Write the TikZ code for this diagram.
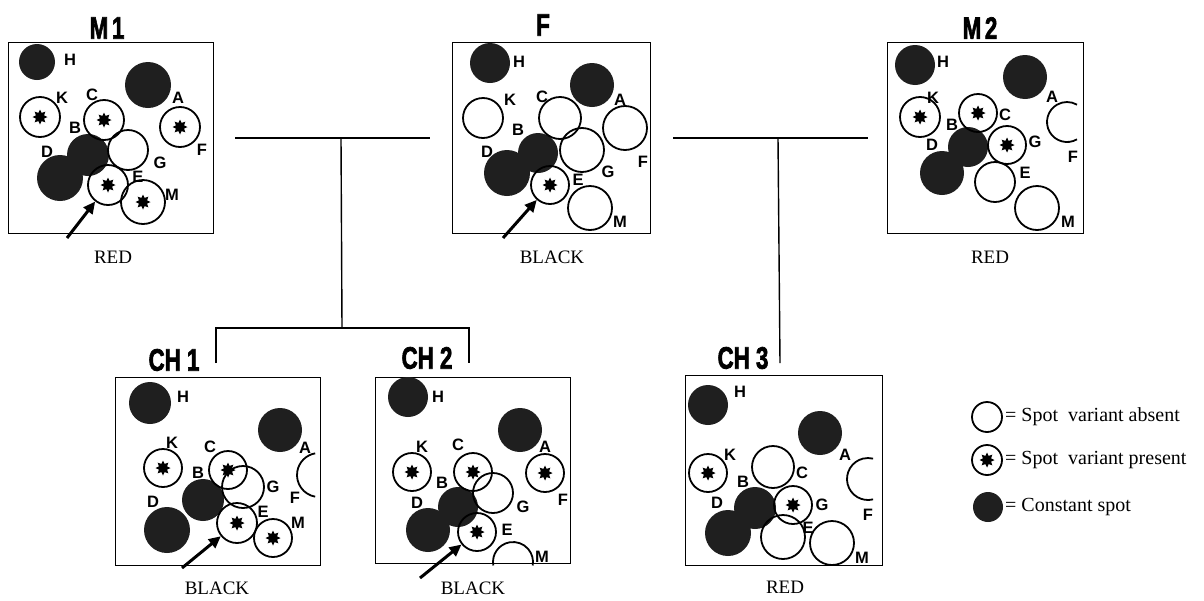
\documentclass[tikz,border=0pt]{standalone}
\usepackage{fontspec}
\setmainfont{Liberation Serif}
\setsansfont{Liberation Sans}
\newfontfamily\headfont[BoldFeatures = {FakeBold = 2.5}]{Liberation Sans}
\usetikzlibrary{shapes.geometric, arrows.meta}

\tikzset{
	panelbox/.style = {draw, line width = 1.4pt, inner sep = 0, anchor = north west},
	spot/.style = {circle, inner sep = 0, line width = 1.8pt},
	constspot/.style = {spot, fill = black!88},
	absentspot/.style = {spot, draw},
	presentspot/.style = {spot, draw, path picture = {\node[starmark] at (path picture bounding box.center){};}},
	starmark/.style = {star, star points = 8, star point ratio = 1.7, minimum size = 15pt, inner sep = 0, fill = black},
	spotarc/.style = {line width = 1.8pt},
	spotlabel/.style = {font = \sffamily\bfseries\fontsize{16.5}{16.5}\selectfont, inner sep = 0},
	paneltitle/.style = {font = \headfont\bfseries\fontsize{31}{31}\selectfont, xscale = 0.72, inner sep = 0},
	panelcaption/.style = {font = \fontsize{19}{19}\selectfont, inner sep = 0},
	legendtext/.style = {font = \fontsize{20}{20}\selectfont, anchor = west, inner sep = 0},
	pointer/.style = {line width = 3pt, -{Triangle[length = 12pt, width = 11pt]}},
	pedigree/.style = {line width = 1.4pt}
}

\begin{document}
\begin{tikzpicture}[x = 1pt, y = -1pt]
	\useasboundingbox (0, 0) rectangle (1204, 600);

	% M1
	\node[panelbox, minimum width = 205pt, minimum height = 191pt] (m1box) at (8, 42){};
	\node[paneltitle] (m1title) at (107, 28){M\,1};
	\node[panelcaption] (m1caption) at (113, 257){RED};
	\foreach \n/\x/\y/\r in {H/37/62/18, A/148/85/23, B/88/155/21, D/60/178/23}
		\node[constspot, minimum size = 2*\r pt] (m1-\n) at (\x, \y){};
	\foreach \n/\x/\y/\r in {G/128/150/20}
		\node[absentspot, minimum size = 2*\r pt] (m1-\n) at (\x, \y){};
	\foreach \n/\x/\y/\r in {K/40/117/20, C/104/120/20, F/180/127/20, E/108/185/20, M/143/202/22}
		\node[presentspot, minimum size = 2*\r pt] (m1-\n) at (\x, \y){};
	\foreach \n/\x/\y in {H/70/60, A/178/98, K/62/98, C/92/95, F/202/150, B/75/128, D/47/152, G/160/163, E/138/177, M/172/195}
		\node[spotlabel] (m1-\n-lab) at (\x, \y){\n};
	\coordinate (m1tail) at (67, 238);
	\draw[pointer] (m1tail) -- (m1-E);

	% F
	\node[panelbox, minimum width = 198pt, minimum height = 191pt] (fbox) at (452, 42){};
	\node[paneltitle] (ftitle) at (543, 25){F};
	\node[panelcaption] (fcaption) at (552, 257){BLACK};
	\foreach \n/\x/\y/\r in {H/490/63/20, A/592/85/22, B/538/153/20, D/507/173/23}
		\node[constspot, minimum size = 2*\r pt] (f-\n) at (\x, \y){};
	\foreach \n/\x/\y/\r in {K/483/118/20, C/560/118/21, F/625/128/22, G/582/150/22, M/590/208/22}
		\node[absentspot, minimum size = 2*\r pt] (f-\n) at (\x, \y){};
	\foreach \n/\x/\y/\r in {E/550/185/19}
		\node[presentspot, minimum size = 2*\r pt] (f-\n) at (\x, \y){};
	\foreach \n/\x/\y in {H/519/62, A/620/100, K/510/100, C/542/97, F/643/162, B/518/130, D/487/152, G/608/172, E/578/180, M/620/222}
		\node[spotlabel] (f-\n-lab) at (\x, \y){\n};
	\coordinate (ftail) at (503, 238);
	\draw[pointer] (ftail) -- (f-E);

	% M2
	\node[panelbox, minimum width = 196pt, minimum height = 191pt] (m2box) at (887, 42){};
	\node[paneltitle] (m2title) at (980, 28){M\,2};
	\node[panelcaption] (m2caption) at (990, 257){RED};
	\foreach \n/\x/\y/\r in {H/915/65/20, A/1025/77/22, B/968/147/20, D/942/173/22}
		\node[constspot, minimum size = 2*\r pt] (m2-\n) at (\x, \y){};
	\foreach \n/\x/\y/\r in {E/995/182/20, M/1037/208/22}
		\node[absentspot, minimum size = 2*\r pt] (m2-\n) at (\x, \y){};
	\foreach \n/\x/\y/\r in {K/920/117/20, C/978/113/19, G/1007/145/19}
		\node[presentspot, minimum size = 2*\r pt] (m2-\n) at (\x, \y){};
	\draw[spotarc] (1067, 122) ++(60:20) arc[start angle = 60, end angle = 300, radius = 20];
	\foreach \n/\x/\y in {H/943/62, A/1052/97, K/933/98, C/1005/115, F/1073/157, B/952/125, D/932/145, G/1035/142, E/1025/173, M/1068/222}
		\node[spotlabel] (m2-\n-lab) at (\x, \y){\n};

	% CH1
	\node[panelbox, minimum width = 205pt, minimum height = 188pt] (ch1box) at (115, 377){};
	\node[paneltitle] (ch1title) at (174, 360){CH 1};
	\node[panelcaption] (ch1caption) at (217, 588){BLACK};
	\foreach \n/\x/\y/\r in {H/150/403/21, A/280/430/22, B/203/500/21, D/167/530/23}
		\node[constspot, minimum size = 2*\r pt] (ch1-\n) at (\x, \y){};
	\foreach \n/\x/\y/\r in {G/243/487/21}
		\node[absentspot, minimum size = 2*\r pt] (ch1-\n) at (\x, \y){};
	\foreach \n/\x/\y/\r in {K/163/468/19, C/228/470/19, E/237/523/20, M/273/538/19}
		\node[presentspot, minimum size = 2*\r pt] (ch1-\n) at (\x, \y){};
	\draw[spotarc] (319, 475) ++(100:22) arc[start angle = 100, end angle = 260, radius = 22];
	\foreach \n/\x/\y in {H/183/397, A/305/448, K/172/443, C/210/447, G/273/487, F/295/498, B/198/473, D/153/502, E/263/512, M/298/523}
		\node[spotlabel] (ch1-\n-lab) at (\x, \y){\n};
	\coordinate (ch1tail) at (182, 568);
	\draw[pointer] (ch1tail) -- (ch1-E);

	% CH2
	\node[panelbox, minimum width = 195pt, minimum height = 186pt] (ch2box) at (375, 377){};
	\node[paneltitle] (ch2title) at (427, 358){CH 2};
	\node[panelcaption] (ch2caption) at (473, 588){BLACK};
	\foreach \n/\x/\y/\r in {H/408/397/20, A/520/430/22, B/458/507/20, D/428/530/22}
		\node[constspot, minimum size = 2*\r pt] (ch2-\n) at (\x, \y){};
	\foreach \n/\x/\y/\r in {G/493/493/20}
		\node[absentspot, minimum size = 2*\r pt] (ch2-\n) at (\x, \y){};
	\foreach \n/\x/\y/\r in {K/412/472/19, C/473/472/19, F/545/473/19, E/477/532/19}
		\node[presentspot, minimum size = 2*\r pt] (ch2-\n) at (\x, \y){};
	\draw[spotarc] (513, 562) ++(170:20) arc[start angle = 170, end angle = 370, radius = 20];
	\foreach \n/\x/\y in {H/438/397, A/545/447, K/422/447, C/458/445, F/563/500, G/523/507, B/442/483, D/417/503, E/507/530, M/542/557}
		\node[spotlabel] (ch2-\n-lab) at (\x, \y){\n};
	\coordinate (ch2tail) at (420, 578);
	\draw[pointer] (ch2tail) -- (ch2-E);

	% CH3
	\node[panelbox, minimum width = 197pt, minimum height = 190pt] (ch3box) at (685, 375){};
	\node[paneltitle] (ch3title) at (743, 358){CH 3};
	\node[panelcaption] (ch3caption) at (785, 587){RED};
	\foreach \n/\x/\y/\r in {H/708/405/20, A/820/433/22, B/755/508/21, D/728/533/23}
		\node[constspot, minimum size = 2*\r pt] (ch3-\n) at (\x, \y){};
	\foreach \n/\x/\y/\r in {C/773/467/21, E/783/537/22, M/832/543/22}
		\node[absentspot, minimum size = 2*\r pt] (ch3-\n) at (\x, \y){};
	\foreach \n/\x/\y/\r in {K/708/473/19, G/793/505/19}
		\node[presentspot, minimum size = 2*\r pt] (ch3-\n) at (\x, \y){};
	\draw[spotarc] (868, 479) ++(76:21) arc[start angle = 76, end angle = 284, radius = 21];
	\foreach \n/\x/\y in {H/740/392, A/845/455, K/730/455, C/802/473, F/868/515, G/822/505, B/743/482, D/717/503, E/808/528, M/862/558}
		\node[spotlabel] (ch3-\n-lab) at (\x, \y){\n};

	% pedigree lines
	\coordinate (mf-l) at (235, 138);
	\coordinate (mf-r) at (430, 138);
	\coordinate (mf-mid) at (341, 138);
	\coordinate (sib-mid) at (342, 328);
	\coordinate (sib-l) at (216, 328);
	\coordinate (sib-r) at (469, 328);
	\coordinate (ch1-drop) at (216, 363);
	\coordinate (ch2-drop) at (469, 363);
	\draw[pedigree] (mf-l) -- (mf-r);
	\draw[pedigree] (mf-mid) -- (sib-mid);
	\draw[pedigree] (ch1-drop) -- (sib-l) -- (sib-r) -- (ch2-drop);

	\coordinate (fm-l) at (673, 138);
	\coordinate (fm-r) at (868, 138);
	\coordinate (fm-mid) at (778, 138);
	\coordinate (ch3-drop) at (780, 363);
	\draw[pedigree] (fm-l) -- (fm-r);
	\draw[pedigree] (fm-mid) -- (ch3-drop);

	% legend
	\node[absentspot, minimum size = 30pt] (key-absent) at (987, 417){};
	\node[presentspot, minimum size = 30pt] (key-present) at (987, 460){};
	\node[constspot, minimum size = 30pt] (key-const) at (988, 507){};
	\node[legendtext] (key-absent-text) at (1005, 417){=\ Spot\ \ variant absent};
	\node[legendtext] (key-present-text) at (1005, 460){=\ Spot\ \ variant present};
	\node[legendtext] (key-const-text) at (1005, 507){=\ Constant spot};
\end{tikzpicture}
\end{document}
